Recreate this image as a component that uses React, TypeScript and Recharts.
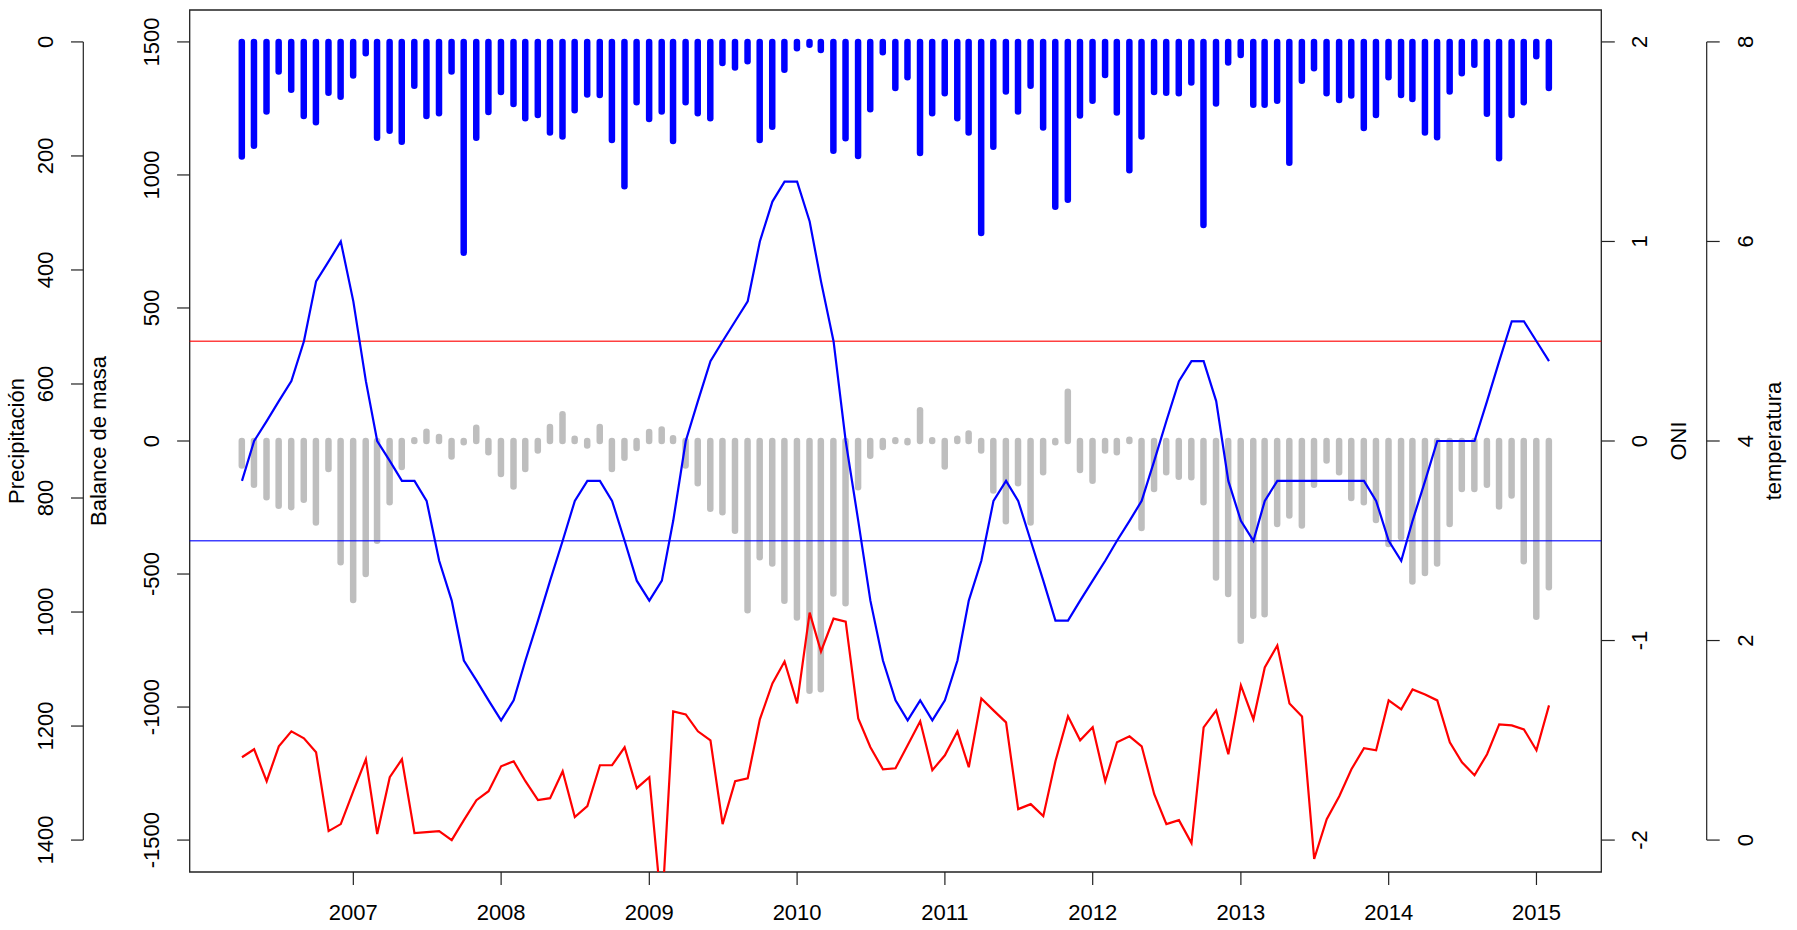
import React from "react";
import { ComposedChart, Bar, Line, XAxis, YAxis, ReferenceLine, ReferenceArea } from "recharts";

// ---------- data ----------
const MONTHS = [
  "2006-04", "2006-05", "2006-06", "2006-07", "2006-08", "2006-09", "2006-10", "2006-11", "2006-12",
  "2007-01", "2007-02", "2007-03", "2007-04", "2007-05", "2007-06", "2007-07", "2007-08", "2007-09", "2007-10", "2007-11", "2007-12",
  "2008-01", "2008-02", "2008-03", "2008-04", "2008-05", "2008-06", "2008-07", "2008-08", "2008-09", "2008-10", "2008-11", "2008-12",
  "2009-01", "2009-02", "2009-03", "2009-04", "2009-05", "2009-06", "2009-07", "2009-08", "2009-09", "2009-10", "2009-11", "2009-12",
  "2010-01", "2010-02", "2010-03", "2010-04", "2010-05", "2010-06", "2010-07", "2010-08", "2010-09", "2010-10", "2010-11", "2010-12",
  "2011-01", "2011-02", "2011-03", "2011-04", "2011-05", "2011-06", "2011-07", "2011-08", "2011-09", "2011-10", "2011-11", "2011-12",
  "2012-01", "2012-02", "2012-03", "2012-04", "2012-05", "2012-06", "2012-07", "2012-08", "2012-09", "2012-10", "2012-11", "2012-12",
  "2013-01", "2013-02", "2013-03", "2013-04", "2013-05", "2013-06", "2013-07", "2013-08", "2013-09", "2013-10", "2013-11", "2013-12",
  "2014-01", "2014-02", "2014-03", "2014-04", "2014-05", "2014-06", "2014-07", "2014-08", "2014-09", "2014-10", "2014-11", "2014-12",
  "2015-01", "2015-02",
];

const PRECIP = [
  201, 182, 122, 52, 84, 130, 141, 89, 96,
  59, 20, 168, 156, 175, 77, 130, 125, 52, 370, 168, 123,
  88, 109, 134, 128, 159, 166, 120, 92, 93, 172, 253, 106,
  135, 122, 174, 106, 125, 134, 37, 45, 34, 172, 149, 49,
  11, 5, 14, 191, 169, 200, 118, 18, 81, 62, 195, 125,
  90, 134, 159, 335, 184, 87, 122, 77, 150, 289, 277, 129,
  103, 58, 124, 225, 166, 88, 89, 90, 71, 321, 108, 36,
  23, 110, 110, 103, 212, 68, 46, 90, 102, 94, 151, 128,
  62, 93, 100, 159, 167, 87, 55, 40, 126, 204, 128, 106,
  25, 81,
];

const BALANCE = [
  -92, -164, -211, -243, -249, -221, -306, -105, -456,
  -598, -500, -375, -230, -98, 3, 35, 15, -58, -5, 50, -42,
  -124, -171, -105, -36, 53, 101, 8, -17, 53, -105, -63, -26,
  34, 43, 10, -92, -159, -255, -268, -337, -636, -437, -460, -600,
  -663, -939, -933, -573, -610, -174, -55, -23, 3, -5, 116, 3,
  -96, 8, 28, -36, -186, -302, -159, -306, -117, -5, 185, -109,
  -149, -36, -42, 5, -327, -180, -117, -134, -136, -230, -513, -575,
  -751, -657, -651, -312, -280, -318, -164, -73, -117, -214, -230, -297,
  -387, -362, -528, -496, -460, -312, -180, -180, -164, -246, -205, -452,
  -661, -550,
];

const ONI = [
  -0.2, 0.0, 0.1, 0.2, 0.3, 0.5, 0.8, 0.9, 1.0,
  0.7, 0.3, 0.0, -0.1, -0.2, -0.2, -0.3, -0.6, -0.8, -1.1, -1.2, -1.3,
  -1.4, -1.3, -1.1, -0.9, -0.7, -0.5, -0.3, -0.2, -0.2, -0.3, -0.5, -0.7,
  -0.8, -0.7, -0.4, 0.0, 0.2, 0.4, 0.5, 0.6, 0.7, 1.0, 1.2, 1.3,
  1.3, 1.1, 0.8, 0.5, 0.0, -0.4, -0.8, -1.1, -1.3, -1.4, -1.3, -1.4,
  -1.3, -1.1, -0.8, -0.6, -0.3, -0.2, -0.3, -0.5, -0.7, -0.9, -0.9, -0.8,
  -0.7, -0.6, -0.5, -0.4, -0.3, -0.1, 0.1, 0.3, 0.4, 0.4, 0.2, -0.2,
  -0.4, -0.5, -0.3, -0.2, -0.2, -0.2, -0.2, -0.2, -0.2, -0.2, -0.2, -0.3,
  -0.5, -0.6, -0.4, -0.2, 0.0, 0.0, 0.0, 0.0, 0.2, 0.4, 0.6, 0.6,
  0.5, 0.4,
];

const TEMP = [
  0.83, 0.91, 0.59, 0.94, 1.09, 1.02, 0.88, 0.09, 0.16,
  0.49, 0.81, 0.06, 0.63, 0.81, 0.07, 0.08, 0.09, 0.0, 0.2, 0.4, 0.49,
  0.74, 0.79, 0.59, 0.4, 0.42, 0.69, 0.23, 0.34, 0.75, 0.75, 0.93, 0.52,
  0.63, -0.72, 1.29, 1.26, 1.09, 1.0, 0.16, 0.59, 0.62, 1.21, 1.57, 1.79,
  1.37, 2.28, 1.89, 2.22, 2.19, 1.22, 0.93, 0.71, 0.72, 0.95, 1.19, 0.7,
  0.85, 1.09, 0.73, 1.42, 1.3, 1.18, 0.31, 0.36, 0.24, 0.79, 1.24, 1.0,
  1.13, 0.59, 0.98, 1.04, 0.94, 0.46, 0.16, 0.2, -0.03, 1.13, 1.3, 0.86,
  1.55, 1.21, 1.73, 1.95, 1.37, 1.24, -0.19, 0.21, 0.44, 0.71, 0.92, 0.9,
  1.4, 1.31, 1.51, 1.46, 1.4, 0.98, 0.78, 0.65, 0.86, 1.16, 1.15, 1.11,
  0.9, 1.35,
];

const YEAR_TICKS = [2007, 2008, 2009, 2010, 2011, 2012, 2013, 2014, 2015];
const BAL_TICKS = [-1500, -1000, -500, 0, 500, 1000, 1500];
const PRE_TICKS = [0, 200, 400, 600, 800, 1000, 1200, 1400];
const ONI_TICKS = [-2, -1, 0, 1, 2];
const TEM_TICKS = [0, 2, 4, 6, 8];
const ONI_LIMITS = [0.5, -0.5];

// ---------- layout ----------
const W = 1797;
const H = 930;
const M_TOP = 10;
const X_AXIS_H = 58;
const PLOT_H = H - M_TOP - X_AXIS_H;
const BAL_W = 106.4;
const PRE_W = 83.3;
const ONI_W = 105.4;
const TEM_W = 90.3;
const FONT = "'Liberation Sans', Arial, Helvetica, sans-serif";
const FS = 22;
const AX = "#222";

const DAY = 86400000;
const dayOf = (s: string) => {
  const [y, m] = s.split("-").map(Number);
  return Date.UTC(y, m - 1, 1) / DAY;
};
const pad = (lo: number, hi: number): [number, number] => [lo - 0.04 * (hi - lo), hi + 0.04 * (hi - lo)];

const rows = MONTHS.map((s, i) => ({
  t: dayOf(s),
  pre: PRECIP[i],
  bal: BALANCE[i],
  oni: ONI[i],
  tem: TEMP[i],
}));

const X_DOMAIN = pad(rows[0].t, rows[rows.length - 1].t);
const X_TICKS = YEAR_TICKS.map((y) => Date.UTC(y, 0, 1) / DAY);
const BAL_DOMAIN = pad(-1500, 1500);
const PRE_DOMAIN = pad(0, 1400);
const ONI_DOMAIN = pad(-2, 2);
const TEM_DOMAIN = pad(0, 8);

const PRE_SPINE = (1400 * PLOT_H) / (PRE_DOMAIN[1] - PRE_DOMAIN[0]);
const TEM_SPINE = -(8 * PLOT_H) / (TEM_DOMAIN[1] - TEM_DOMAIN[0]);

// ---------- helpers ----------
const RotText = ({ x, y, children }: { x: number; y: number; children: React.ReactNode }) => (
  <text
    x={x}
    y={y}
    transform={`rotate(-90 ${x} ${y})`}
    textAnchor="middle"
    fontFamily={FONT}
    fontSize={FS}
    fill="#000"
  >
    {children}
  </text>
);

const yTick = (side: "left" | "right", tickSize: number, spine?: number) => (props: any) => {
  const { x, y, payload } = props;
  const axisX = side === "left" ? x + tickSize : x - tickSize;
  const bx = side === "left" ? axisX - 30.3 : axisX + 46.1;
  return (
    <g>
      {spine !== undefined && payload.value === 0 ? (
        <line x1={axisX} x2={axisX} y1={y} y2={y + spine} stroke={AX} strokeWidth={1.2} />
      ) : null}
      <RotText x={bx} y={y}>{String(payload.value)}</RotText>
    </g>
  );
};

const XTick = (props: any) => {
  const { x, y, payload } = props;
  return (
    <text x={x} y={y + 35} textAnchor="middle" fontFamily={FONT} fontSize={FS} fill="#000">
      {new Date(payload.value * DAY).getUTCFullYear()}
    </text>
  );
};

const title = (text: string, bx: number) => (props: any) => {
  const vb = props && props.viewBox;
  const cy = vb && vb.height ? vb.y + vb.height / 2 : M_TOP + PLOT_H / 2;
  return <RotText x={bx} y={cy}>{text}</RotText>;
};

const stick = (color: string, w: number) => (props: any) => {
  const { x, y, width, height } = props;
  if (x == null || y == null || isNaN(x) || isNaN(y)) return <g />;
  const cx = x + width / 2;
  return (
    <line x1={cx} x2={cx} y1={y} y2={y + (height || 0)} stroke={color} strokeWidth={w} strokeLinecap="round" />
  );
};

export default function App() {
  return (
    <div style={{ position: "absolute", left: 0, top: 0, width: W, height: H, background: "#fff" }}>
      <ComposedChart
        width={W}
        height={H}
        data={rows}
        margin={{ top: M_TOP, right: 0, bottom: 0, left: 0 }}
        style={{ fontFamily: FONT }}
      >
        <XAxis
          xAxisId="x"
          dataKey="t"
          type="number"
          domain={X_DOMAIN}
          allowDataOverflow
          ticks={X_TICKS}
          interval={0}
          height={X_AXIS_H}
          tickSize={13}
          tickMargin={0}
          axisLine={false}
          tickLine={{ stroke: AX, strokeWidth: 1.2 }}
          tick={XTick}
        />
        <XAxis xAxisId="x2" dataKey="t" type="number" domain={X_DOMAIN} allowDataOverflow hide />
        <YAxis
          yAxisId="bal"
          orientation="left"
          type="number"
          width={BAL_W}
          domain={BAL_DOMAIN}
          allowDataOverflow
          ticks={BAL_TICKS}
          interval={0}
          tickSize={12.6}
          tickMargin={0}
          axisLine={false}
          tickLine={{ stroke: AX, strokeWidth: 1.2 }}
          tick={yTick("left", 12.6)}
          label={title("Balance de masa", 106.2)}
        />
        <YAxis
          yAxisId="pre"
          orientation="left"
          type="number"
          width={PRE_W}
          domain={PRE_DOMAIN}
          reversed
          allowDataOverflow
          ticks={PRE_TICKS}
          interval={0}
          tickSize={12.3}
          tickMargin={0}
          axisLine={false}
          tickLine={{ stroke: AX, strokeWidth: 1.2 }}
          tick={yTick("left", 12.3, PRE_SPINE)}
          label={title("Precipitación", 24)}
        />
        <YAxis
          yAxisId="oni"
          orientation="right"
          type="number"
          width={ONI_W}
          domain={ONI_DOMAIN}
          allowDataOverflow
          ticks={ONI_TICKS}
          interval={0}
          tickSize={13.5}
          tickMargin={0}
          axisLine={false}
          tickLine={{ stroke: AX, strokeWidth: 1.2 }}
          tick={yTick("right", 13.5)}
          label={title("ONI", 1686)}
        />
        <YAxis
          yAxisId="tem"
          orientation="right"
          type="number"
          width={TEM_W}
          domain={TEM_DOMAIN}
          allowDataOverflow
          ticks={TEM_TICKS}
          interval={0}
          tickSize={13}
          tickMargin={0}
          axisLine={false}
          tickLine={{ stroke: AX, strokeWidth: 1.2 }}
          tick={yTick("right", 13, TEM_SPINE)}
          label={title("temperatura", 1781)}
        />

        <ReferenceArea
          xAxisId="x"
          yAxisId="bal"
          x1={X_DOMAIN[0]}
          x2={X_DOMAIN[1]}
          y1={BAL_DOMAIN[0]}
          y2={BAL_DOMAIN[1]}
          fill="none"
          fillOpacity={0}
          stroke={AX}
          strokeWidth={1.3}
          ifOverflow="visible"
        />

        <Bar
          xAxisId="x"
          yAxisId="pre"
          dataKey="pre"
          barSize={7}
          fill="#0000ff"
          shape={stick("#0000ff", 6.5)}
          isAnimationActive={false}
        />
        <Bar
          xAxisId="x2"
          yAxisId="bal"
          dataKey="bal"
          barSize={7}
          fill="#bebebe"
          shape={stick("#bebebe", 6.5)}
          isAnimationActive={false}
        />

        {ONI_LIMITS.map((v) => (
          <ReferenceLine
            key={v}
            xAxisId="x"
            yAxisId="oni"
            y={v}
            stroke={v > 0 ? "#ff0000" : "#0000ff"}
            strokeOpacity={0.75}
            strokeWidth={1.4}
          />
        ))}

        <Line
          xAxisId="x"
          yAxisId="oni"
          dataKey="oni"
          type="linear"
          stroke="#0000ff"
          strokeWidth={2.2}
          dot={false}
          activeDot={false}
          isAnimationActive={false}
        />
        <Line
          xAxisId="x"
          yAxisId="tem"
          dataKey="tem"
          type="linear"
          stroke="#ff0000"
          strokeWidth={2.2}
          dot={false}
          activeDot={false}
          isAnimationActive={false}
        />
      </ComposedChart>
    </div>
  );
}
